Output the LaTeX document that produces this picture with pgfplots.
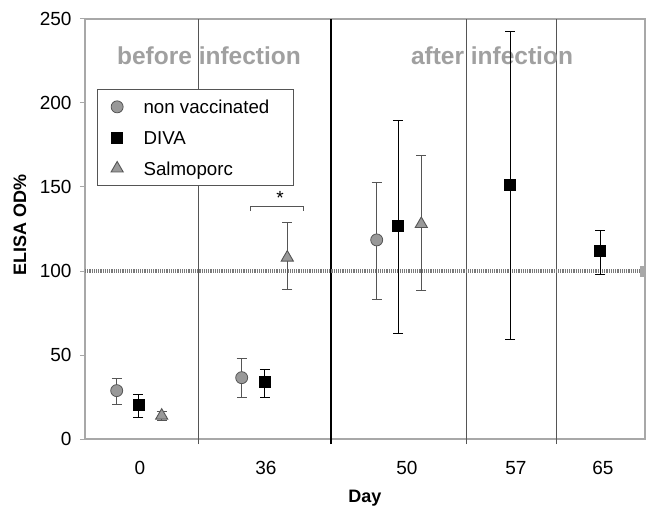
\documentclass[border=0pt]{standalone}
\usepackage{fontspec}
\setmainfont{Liberation Sans}
\usepackage{pgfplots}
\pgfplotsset{compat=1.18}
\definecolor{lgray}{HTML}{A8A8A8}
\definecolor{mgray}{HTML}{999999}
\definecolor{dgray}{HTML}{555555}
\definecolor{refgray}{HTML}{7A7A7A}
\definecolor{txtgray}{HTML}{A0A0A0}
\newcommand{\fs}[1]{\fontsize{#1}{#1}\selectfont}

\begin{document}
\begin{tikzpicture}
\useasboundingbox (-85pt,-70pt) rectangle (561pt,439pt);
\begin{axis}[
  at={(0,0)},anchor=south west,
  scale only axis,width=560pt,height=420pt,
  xmin=0,xmax=560,ymin=0,ymax=250,
  clip=false,
  axis line style={lgray,line width=1.2pt},
  /pgf/number format/assume math mode=true,
  tick label style={font=\fs{19}},
  ytick={0,50,100,150,200,250},
  yticklabel style={xshift=-5pt},
  xtick={55,181,322,431,518},
  xticklabels={0,36,50,57,65},
  xticklabel style={anchor=base,yshift=-30pt},
  major x tick style={draw=none},
  y tick style={lgray,line width=1pt},
  tick align=outside,
  major tick length=5pt,
  xlabel={\textbf{Day}},
  ylabel={\textbf{ELISA OD\%}},
  every axis x label/.style={at={(axis description cs:0.5,-0.142)},anchor=center,font=\fs{18}},
  every axis y label/.style={at={(axis description cs:-0.116,0.51)},rotate=90,anchor=center,font=\fs{18}},
  legend style={at={(axis cs:11.7,208.3)},anchor=north west,draw=dgray,line width=0.8pt,
    font=\fs{18.7},inner xsep=14pt,inner ysep=2pt,row sep=0pt,
    nodes={inner sep=0pt,text depth=0pt},
    legend cell align=left},
  legend image code/.code={%
    \path (-4pt,-15pt) (26pt,15pt);
    \draw[#1] plot coordinates {(0pt,0pt)};},
]
% category separators
\draw[dgray,line width=0.9pt] (axis cs:113,-3) -- (axis cs:113,250);
\draw[black,line width=2.6pt] (axis cs:246,-3) -- (axis cs:246,250);
\draw[dgray,line width=0.9pt] (axis cs:381,-3) -- (axis cs:381,250);
\draw[dgray,line width=0.9pt] (axis cs:471,-3) -- (axis cs:471,250);
% reference line at 100
\draw[refgray,line width=3.2pt,dash pattern=on 1.2pt off 1pt] (axis cs:0,100) -- (axis cs:560,100);
% texts
\node[font=\bfseries\fs{24.5},text=txtgray] at (axis cs:124,228) {before infection};
\node[font=\bfseries\fs{24.5},text=txtgray] at (axis cs:407,228) {after infection};
\draw[dgray,line width=1pt] (axis cs:165.7,135.7) -- (axis cs:165.7,138.3) -- (axis cs:218.3,138.3) -- (axis cs:218.3,135.7);
\node[font=\fs{19}] at (axis cs:195,143.5) {*};

\addplot[only marks,mark=*,mark size=6pt,mark options={fill=mgray,draw=dgray,line width=0.8pt},
  error bars/.cd,y dir=both,y explicit,
  error bar style={dgray,line width=1pt},error mark options={rotate=90,mark size=5pt,dgray,line width=1pt}]
  coordinates {(31.7,28.8) += (0,7.5) -= (0,8.0) (156.7,36.5) += (0,11.5) -= (0,11.5) (291.7,118.5) += (0,34.3) -= (0,35.2)};
\addlegendentry{non vaccinated\hspace*{10pt}}
\addplot[only marks,mark=square*,mark size=5.5pt,mark options={fill=black,draw=black},
  error bars/.cd,y dir=both,y explicit,
  error bar style={black,line width=1pt},error mark options={rotate=90,mark size=5pt,black,line width=1pt}]
  coordinates {(53.3,20.2) += (0,6.4) -= (0,7.3) (180,34) += (0,7.5) -= (0,9) (313,126.8) += (0,62.9) -= (0,63.9) (425,151.6) += (0,90.8) -= (0,92.3) (515,112) += (0,12.4) -= (0,13.8)};
\addlegendentry{DIVA}
\addplot[only marks,mark=triangle*,mark size=7pt,mark options={fill=mgray,draw=dgray,line width=0.9pt},
  error bars/.cd,y dir=both,y explicit,
  error bar style={dgray,line width=1pt},error mark options={rotate=90,mark size=5pt,dgray,line width=1pt}]
  coordinates {(76.7,13.9) += (0,2.6) -= (0,2.6) (202.3,108) += (0,20.8) -= (0,19) (336.3,128) += (0,41) -= (0,39.7)};
\addlegendentry{Salmoporc}
\addplot[only marks,mark=square*,mark size=5pt,mark options={fill=lgray,draw=lgray},forget plot]
  coordinates {(560,100)};
\end{axis}
\end{tikzpicture}
\end{document}
